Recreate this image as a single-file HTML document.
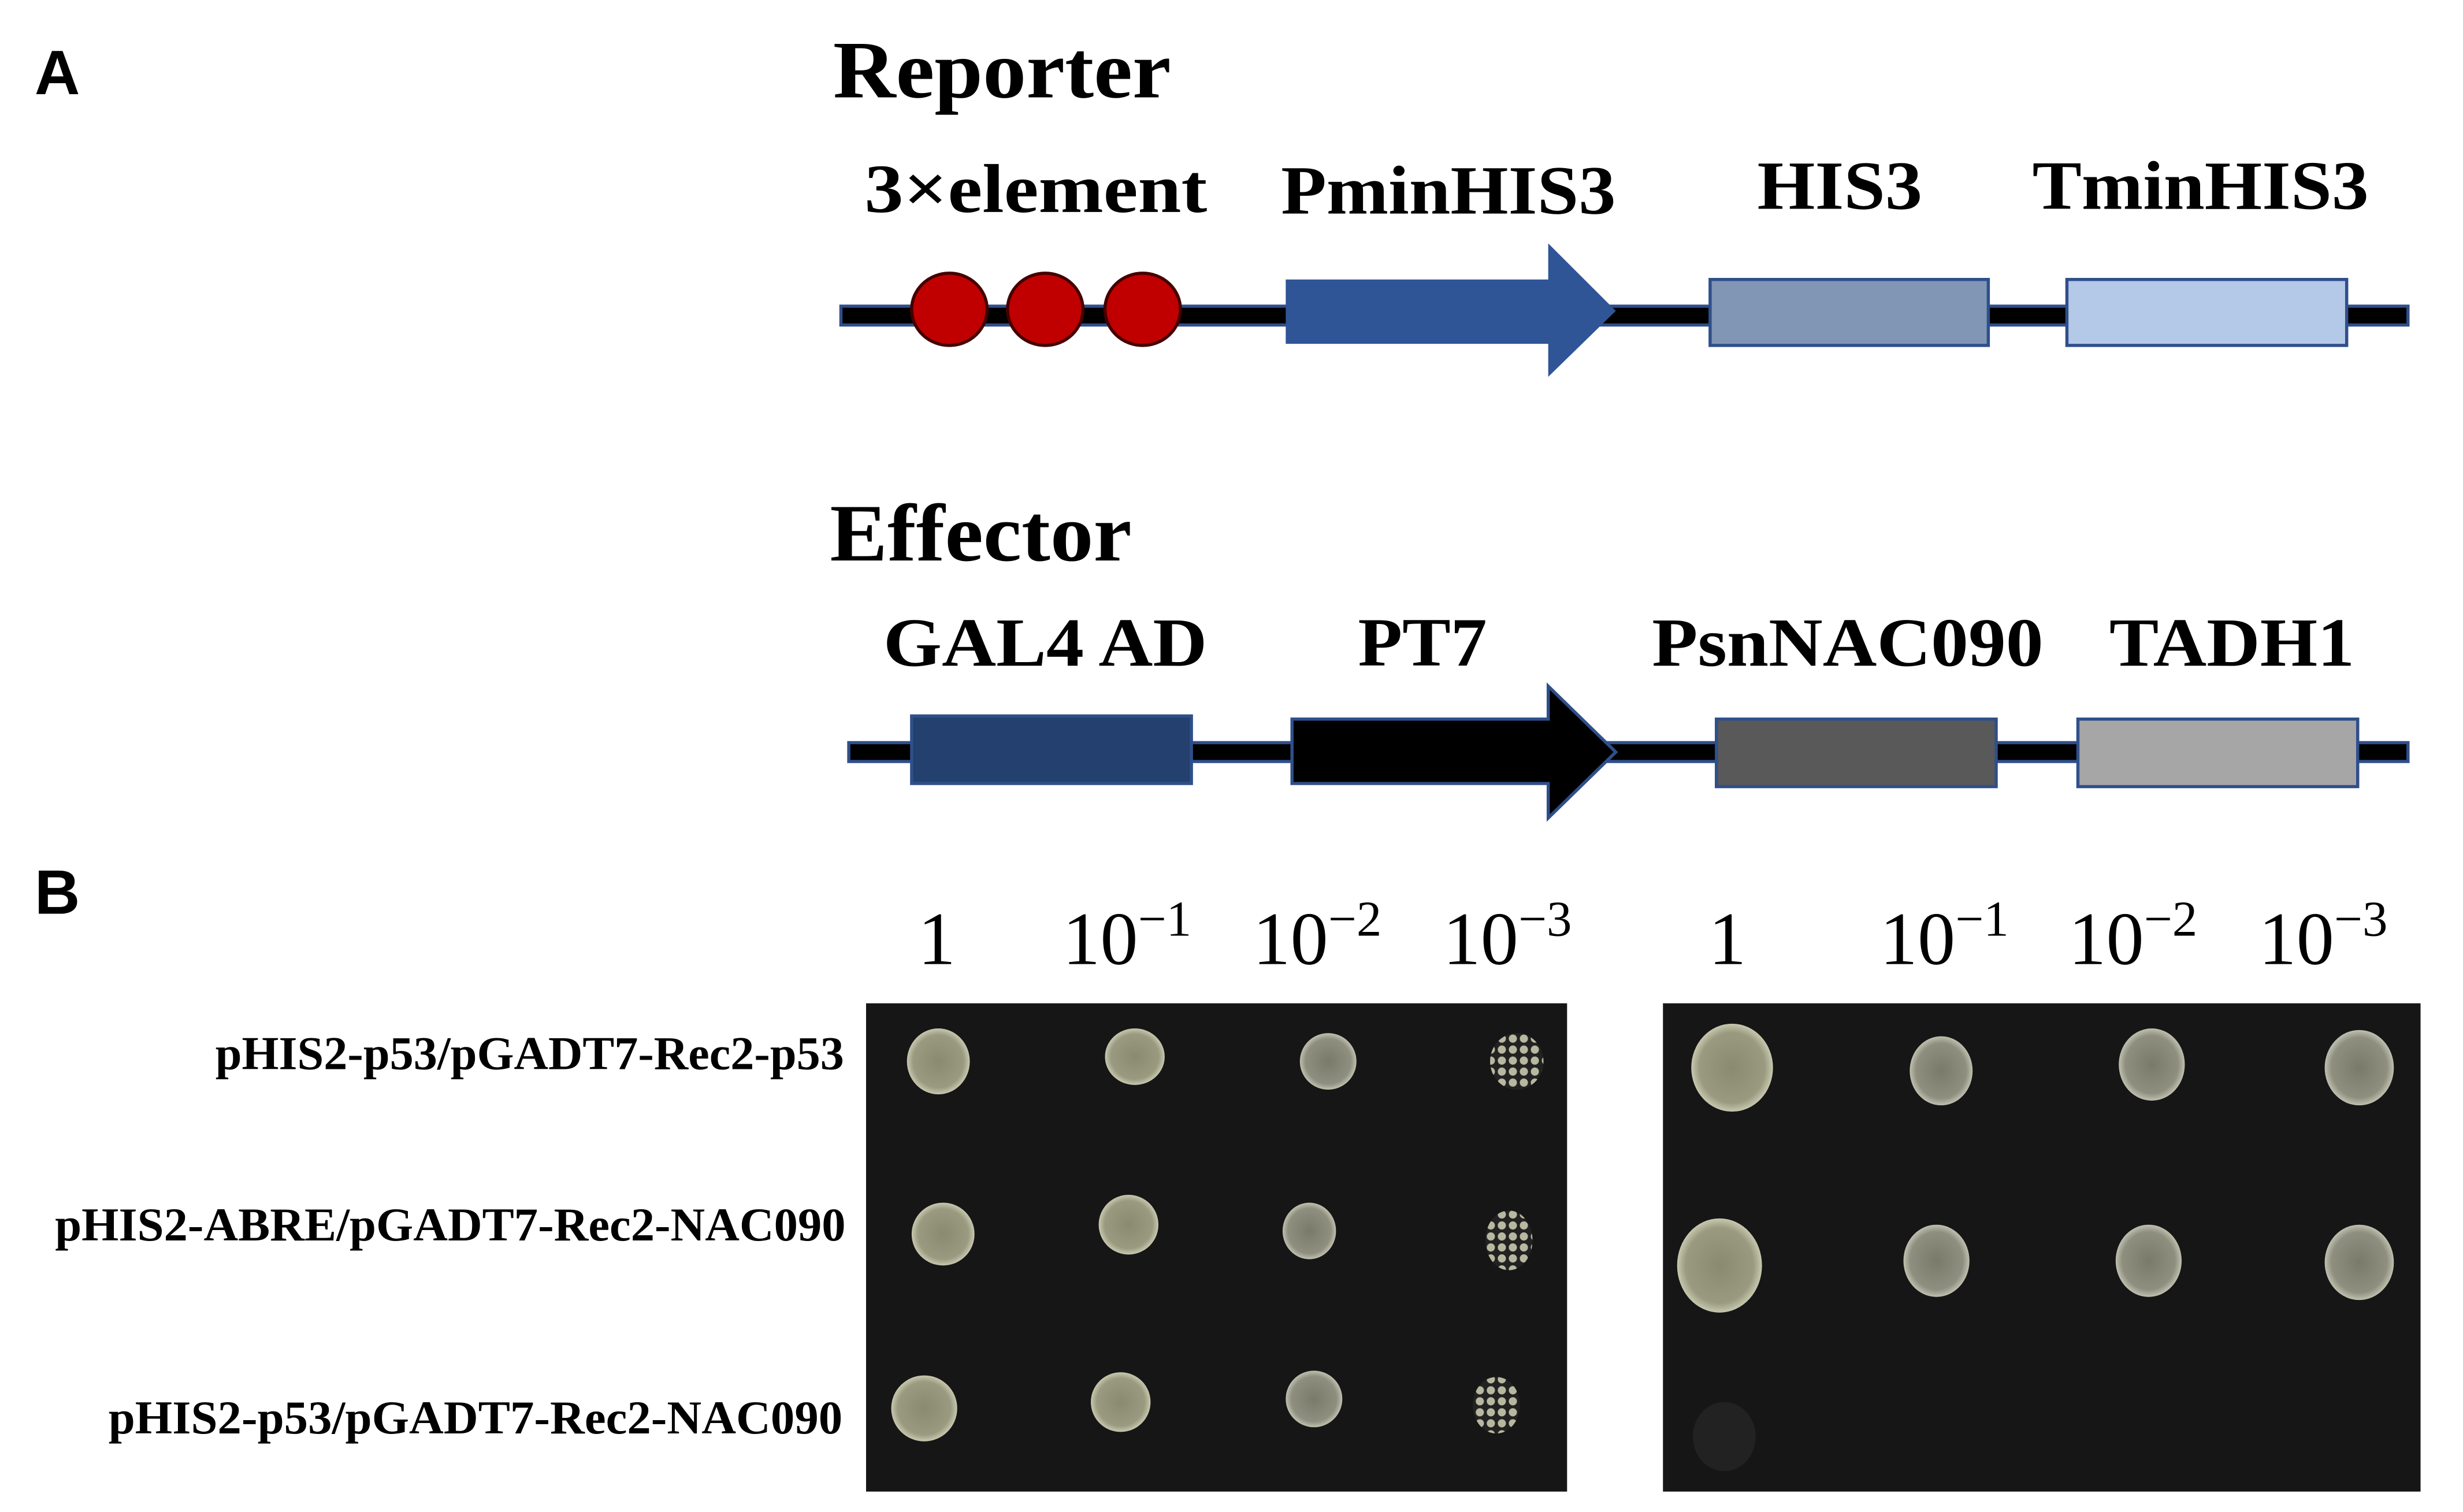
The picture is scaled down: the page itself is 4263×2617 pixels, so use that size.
<!DOCTYPE html>
<html><head><style>html,body{margin:0;padding:0;background:#fff}svg{display:block}</style></head>
<body>
<svg width="4263" height="2617" viewBox="0 0 1567 963" preserveAspectRatio="none" xmlns="http://www.w3.org/2000/svg">
<defs>
<radialGradient id="c1"><stop offset="0" stop-color="#8a8a70"/><stop offset="0.8" stop-color="#9a9a80"/><stop offset="1" stop-color="#c8c8b0"/></radialGradient>
<radialGradient id="c2"><stop offset="0" stop-color="#7a7a6a"/><stop offset="0.8" stop-color="#8f8f7f"/><stop offset="1" stop-color="#c0c0b0"/></radialGradient>
<pattern id="sp" width="7" height="7" patternUnits="userSpaceOnUse"><rect width="7" height="7" fill="#222"/><circle cx="3.5" cy="3.5" r="2.6" fill="#b8b8a0"/></pattern>
</defs>
<rect width="1567" height="963" fill="#fff"/>
<g font-family="Liberation Serif, serif" font-weight="bold" fill="#000">
<text x="22" y="60" font-family="Liberation Sans, sans-serif" font-size="40">A</text>
<text x="530" y="62" font-size="52" textLength="215" lengthAdjust="spacingAndGlyphs">Reporter</text>
<g font-size="44">
<text x="550" y="135" textLength="218" lengthAdjust="spacingAndGlyphs">3×element</text>
<text x="815" y="136" textLength="213" lengthAdjust="spacingAndGlyphs">PminHIS3</text>
<text x="1118" y="133" textLength="105" lengthAdjust="spacingAndGlyphs">HIS3</text>
<text x="1293" y="133" textLength="214" lengthAdjust="spacingAndGlyphs">TminHIS3</text>
</g>
<text x="528" y="357" font-size="52" textLength="192" lengthAdjust="spacingAndGlyphs">Effector</text>
<g font-size="44">
<text x="562" y="424" textLength="206" lengthAdjust="spacingAndGlyphs">GAL4 AD</text>
<text x="864" y="424" textLength="82" lengthAdjust="spacingAndGlyphs">PT7</text>
<text x="1051" y="424" textLength="249" lengthAdjust="spacingAndGlyphs">PsnNAC090</text>
<text x="1342" y="424" textLength="156" lengthAdjust="spacingAndGlyphs">TADH1</text>
</g>
<text x="22" y="582" font-family="Liberation Sans, sans-serif" font-size="40">B</text>
</g>
<rect x="535" y="195" width="997" height="12" fill="#000" stroke="#2f4f8a" stroke-width="2"/>
<g fill="#c00000" stroke="#400" stroke-width="2">
<ellipse cx="604" cy="197" rx="24" ry="23"/><ellipse cx="665" cy="197" rx="24" ry="23"/><ellipse cx="727" cy="197" rx="24" ry="23"/>
</g>
<polygon points="818,178 985,178 985,155 1028,198 985,240 985,219 818,219" fill="#2f5597"/>
<rect x="1088" y="178" width="177" height="42" fill="#8096b4" stroke="#2f4f8a" stroke-width="2"/>
<rect x="1315" y="178" width="178" height="42" fill="#b4c8e8" stroke="#2f4f8a" stroke-width="2"/>
<rect x="540" y="473" width="992" height="12" fill="#000" stroke="#2f4f8a" stroke-width="2"/>
<rect x="580" y="456" width="178" height="43" fill="#23406e" stroke="#2f4f8a" stroke-width="2"/>
<polygon points="822,458 985,458 985,437 1028,479 985,521 985,499 822,499" fill="#000" stroke="#2f4f8a" stroke-width="2"/>
<rect x="1092" y="458" width="178" height="43" fill="#595959" stroke="#2f4f8a" stroke-width="2"/>
<rect x="1322" y="458" width="178" height="43" fill="#a6a6a6" stroke="#2f4f8a" stroke-width="2"/>
<g font-family="Liberation Serif, serif" font-size="48" fill="#000">
<text x="584" y="614">1</text>
<text x="676" y="614">10<tspan font-size="32" dy="-18">−1</tspan></text>
<text x="797" y="614">10<tspan font-size="32" dy="-18">−2</tspan></text>
<text x="918" y="614">10<tspan font-size="32" dy="-18">−3</tspan></text>
<text x="1087" y="614">1</text>
<text x="1196" y="614">10<tspan font-size="32" dy="-18">−1</tspan></text>
<text x="1316" y="614">10<tspan font-size="32" dy="-18">−2</tspan></text>
<text x="1437" y="614">10<tspan font-size="32" dy="-18">−3</tspan></text>
</g>
<g font-family="Liberation Serif, serif" font-weight="bold" font-size="30" fill="#000">
<text x="137" y="681" textLength="400" lengthAdjust="spacingAndGlyphs">pHIS2-p53/pGADT7-Rec2-p53</text>
<text x="35" y="790" textLength="503" lengthAdjust="spacingAndGlyphs">pHIS2-ABRE/pGADT7-Rec2-NAC090</text>
<text x="69" y="913" textLength="467" lengthAdjust="spacingAndGlyphs">pHIS2-p53/pGADT7-Rec2-NAC090</text>
</g>
<rect x="551" y="639" width="446" height="311" fill="#161616"/>
<rect x="1058" y="639" width="482" height="311" fill="#161616"/>
<g fill="url(#c1)">
<ellipse cx="597" cy="676" rx="20" ry="21"/><ellipse cx="722" cy="673" rx="19" ry="18"/>
<ellipse cx="600" cy="786" rx="20" ry="20"/><ellipse cx="718" cy="780" rx="19" ry="19"/>
<ellipse cx="588" cy="897" rx="21" ry="21"/><ellipse cx="713" cy="893" rx="19" ry="19"/>
<ellipse cx="1102" cy="680" rx="26" ry="28"/><ellipse cx="1094" cy="806" rx="27" ry="30"/>
</g>
<g fill="url(#c2)">
<ellipse cx="845" cy="676" rx="18" ry="18"/>
<ellipse cx="833" cy="784" rx="17" ry="18"/>
<ellipse cx="836" cy="891" rx="18" ry="18"/>
<ellipse cx="1235" cy="682" rx="20" ry="22"/><ellipse cx="1369" cy="678" rx="21" ry="23"/><ellipse cx="1501" cy="680" rx="22" ry="24"/>
<ellipse cx="1232" cy="803" rx="21" ry="23"/><ellipse cx="1367" cy="803" rx="21" ry="23"/><ellipse cx="1501" cy="804" rx="22" ry="24"/>
</g>
<g fill="url(#sp)">
<ellipse cx="965" cy="676" rx="17" ry="18"/><ellipse cx="960" cy="790" rx="15" ry="19"/><ellipse cx="952" cy="895" rx="15" ry="18"/>
</g>
<ellipse cx="1097" cy="915" rx="20" ry="22" fill="#222"/>
</svg>
</body></html>
